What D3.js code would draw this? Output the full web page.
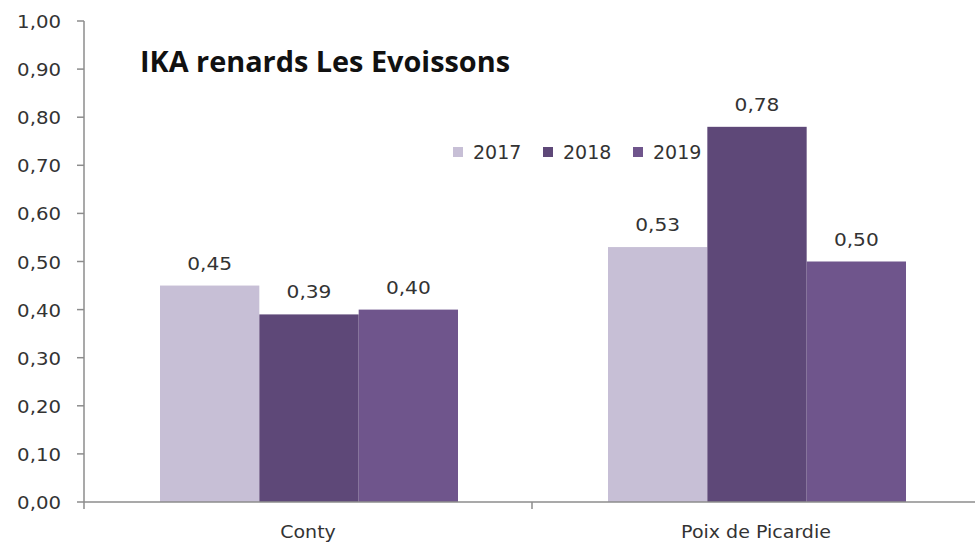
<!DOCTYPE html>
<html>
<head>
<meta charset="utf-8">
<script src="https://cdn.jsdelivr.net/npm/d3@7.9.0/dist/d3.min.js"></script>
<style>
  body { margin: 0; background: #fff; }
  svg { display: block; font-family: "DejaVu Sans", Verdana, sans-serif; }
</style>
</head>
<body>
<svg id="chart" width="975" height="543"></svg>
<script>
// data
const sites = ["Conty", "Poix de Picardie"];
const years = ["2017", "2018", "2019"];
const values2017 = [0.45, 0.53];
const values2018 = [0.39, 0.78];
const values2019 = [0.40, 0.50];
const yTicks = [0, 0.1, 0.2, 0.3, 0.4, 0.5, 0.6, 0.7, 0.8, 0.9, 1.0];
const colors = ["#c7bfd6", "#5e4878", "#6f558c"];

const series = [values2017, values2018, values2019];

const svg = d3.select("#chart");
const margin = { top: 21, right: -5, bottom: 41, left: 84 };
const width = 975 - margin.left - margin.right;
const height = 543 - margin.top - margin.bottom;
const g = svg.append("g").attr("transform", `translate(${margin.left},${margin.top})`);

const fmt = v => d3.format(".2f")(v).replace(".", ",");
const axisColor = "#8c8c8c";
const textColor = "#333";

// text that is a bit wider than the font draws it, like the original picture
function wideText(parent, x, y, str, size, anchor, sx) {
    return parent.append("text")
        .attr("transform", `translate(${x},${y}) scale(${sx},1)`)
        .attr("text-anchor", anchor)
        .attr("font-size", size)
        .attr("fill", textColor)
        .text(str);
}

const x0 = d3.scaleBand().domain(sites).range([0, width]).paddingInner(0).paddingOuter(0);
const x1 = d3.scaleBand().domain(years).range([76, x0.bandwidth() - 74]);
const y = d3.scaleLinear().domain([0, 1]).range([height, 0]);

// y axis
g.append("line").attr("x1", 0).attr("x2", 0).attr("y1", 0).attr("y2", height)
    .attr("stroke", axisColor).attr("stroke-width", 1.5);
yTicks.forEach(t => {
    g.append("line").attr("x1", -7).attr("x2", 0).attr("y1", y(t)).attr("y2", y(t))
        .attr("stroke", axisColor).attr("stroke-width", 1.5);
    wideText(g, -23, y(t) + 7, fmt(t), 17, "end", 1.16);
});

// bars
sites.forEach((site, i) => {
    series.forEach((vals, j) => {
        const bx = x0(site) + x1(years[j]);
        g.append("rect")
            .attr("x", bx)
            .attr("y", y(vals[i]))
            .attr("width", x1.bandwidth())
            .attr("height", height - y(vals[i]))
            .attr("fill", colors[j]);
        wideText(g, bx + x1.bandwidth() / 2, y(vals[i]) - 16, fmt(vals[i]), 18, "middle", 1.12);
    });
});

// x axis
const xAxisG = g.append("g").attr("transform", `translate(0,${height})`);
xAxisG.append("line").attr("x1", 0).attr("x2", width).attr("stroke", axisColor).attr("stroke-width", 1.5);
[0, x0.bandwidth(), width].forEach(t => {
    xAxisG.append("line").attr("x1", t).attr("x2", t).attr("y1", 0).attr("y2", 7)
        .attr("stroke", axisColor).attr("stroke-width", 1.5);
});
sites.forEach(site => {
    wideText(xAxisG, x0(site) + x0.bandwidth() / 2, 36, site, 17, "middle", 1.12);
});

// title
svg.append("text")
    .attr("x", 140).attr("y", 72)
    .attr("font-size", 28).attr("font-weight", "bold").attr("fill", "#111")
    .attr("font-family", "Open Sans, DejaVu Sans, sans-serif")
    .attr("textLength", 370).attr("lengthAdjust", "spacingAndGlyphs")
    .text("IKA renards Les Evoissons");

// legend
const legendX = [453, 543, 633];
years.forEach((yr, j) => {
    svg.append("rect").attr("x", legendX[j]).attr("y", 147).attr("width", 10).attr("height", 10).attr("fill", colors[j]);
    svg.append("text").attr("x", legendX[j] + 20).attr("y", 159)
        .attr("font-size", 19).attr("fill", textColor).text(yr);
});
</script>
</body>
</html>
